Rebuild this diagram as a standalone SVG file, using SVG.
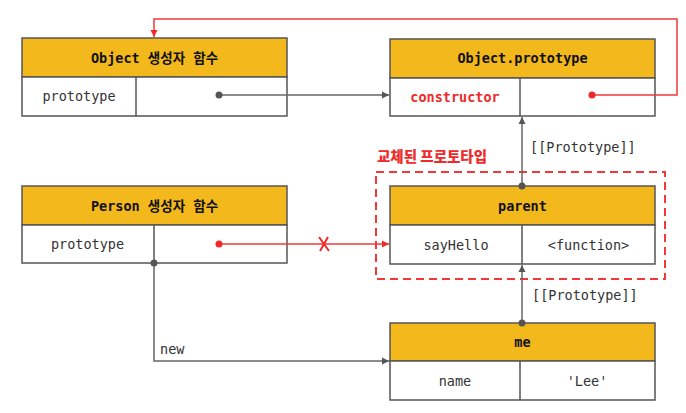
<svg xmlns="http://www.w3.org/2000/svg" width="686" height="413" viewBox="0 0 686 413">
<style>
.hd{fill:#F3B91C;stroke:#555;stroke-width:1.5}
.bd{fill:#fff;stroke:#555;stroke-width:1.5}
.dv{stroke:#555;stroke-width:1.5}
text{font-family:"DejaVu Sans Mono","Noto Sans CJK KR",monospace;font-size:13.5px;text-anchor:middle;dominant-baseline:central}
.ht{font-weight:bold;fill:#111}
.bt{fill:#333}
.rt{fill:#EE2A2A;font-weight:bold}
.ln{fill:none;stroke:#666;stroke-width:1.5}
.rl{fill:none;stroke:#F03A3A;stroke-width:1.5}
</style>
<defs>
<marker id="ag" markerWidth="8" markerHeight="8" refX="7" refY="4" orient="auto" markerUnits="userSpaceOnUse"><path d="M0,0.5 L7,4 L0,7.5 Z" fill="#555"/></marker>
<marker id="ar" markerWidth="8" markerHeight="8" refX="7" refY="4" orient="auto" markerUnits="userSpaceOnUse"><path d="M0,0.5 L7,4 L0,7.5 Z" fill="#EE2A2A"/></marker>
</defs>
<g id="replaced">
<rect x="376" y="172" width="289" height="107" fill="none" stroke="#F03A3A" stroke-width="2" stroke-dasharray="8 5"/>
<text class="rt" x="377" y="155" style="text-anchor:start;font-family:'Noto Sans CJK KR',sans-serif;font-size:14.5px;font-weight:900">교체된 프로토타입</text>
</g>
<g id="object-ctor">
<rect class="hd" x="22" y="38" width="265" height="39"/>
<rect class="bd" x="22" y="77" width="265" height="39"/>
<line class="dv" x1="136" y1="77" x2="136" y2="116"/>
<text class="ht" x="154.5" y="58">Object 생성자 함수</text>
<text class="bt" x="79" y="96">prototype</text>
</g>
<g id="object-prototype">
<rect class="hd" x="390" y="39" width="265" height="39"/>
<rect class="bd" x="390" y="78" width="265" height="38"/>
<line class="dv" x1="520" y1="78" x2="520" y2="116"/>
<text class="ht" x="522.5" y="58">Object.prototype</text>
<text class="rt" x="455" y="97">constructor</text>
</g>
<g id="person-ctor">
<rect class="hd" x="22" y="186" width="265" height="39"/>
<rect class="bd" x="22" y="225" width="265" height="38"/>
<line class="dv" x1="154" y1="225" x2="154" y2="263"/>
<text class="ht" x="154.5" y="206">Person 생성자 함수</text>
<text class="bt" x="87.5" y="244">prototype</text>
</g>
<g id="parent">
<rect class="hd" x="390" y="186" width="265" height="39"/>
<rect class="bd" x="390" y="225" width="265" height="39"/>
<line class="dv" x1="522" y1="225" x2="522" y2="264"/>
<text class="ht" x="522.5" y="206">parent</text>
<text class="bt" x="456" y="245">sayHello</text>
<text class="bt" x="588.5" y="245">&lt;function&gt;</text>
</g>
<g id="me">
<rect class="hd" x="390" y="323" width="265" height="38"/>
<rect class="bd" x="390" y="361" width="265" height="39"/>
<line class="dv" x1="520" y1="361" x2="520" y2="400"/>
<text class="ht" x="522.5" y="342">me</text>
<text class="bt" x="455" y="381">name</text>
<text class="bt" x="587" y="381">'Lee'</text>
</g>
<g id="connectors">
<path class="rl" d="M592,95 H677 V19 H154 V37" marker-end="url(#ar)"/>
<circle cx="592" cy="95" r="3.5" fill="#EE2A2A"/>
<path class="ln" d="M219,95 H389" marker-end="url(#ag)"/>
<circle cx="219" cy="95" r="3.5" fill="#555"/>
<path class="rl" d="M219,244 H389" marker-end="url(#ar)"/>
<circle cx="219" cy="244" r="3.5" fill="#EE2A2A"/>
<path d="M319,237 L329,251 M328,237 L320,251" stroke="#EE2A2A" stroke-width="2" fill="none"/>
<path class="ln" d="M154,263 V361 H389" marker-end="url(#ag)"/>
<circle cx="154" cy="263" r="3.5" fill="#555"/>
<text class="bt" x="160" y="349" style="text-anchor:start">new</text>
<path class="ln" d="M522,186 V117" marker-end="url(#ag)"/>
<circle cx="522" cy="186" r="3.5" fill="#555"/>
<text class="bt" x="530" y="147" style="text-anchor:start">[[Prototype]]</text>
<path class="ln" d="M522,323 V265" marker-end="url(#ag)"/>
<circle cx="522" cy="323" r="3.5" fill="#555"/>
<text class="bt" x="532" y="295" style="text-anchor:start">[[Prototype]]</text>
</g>
</svg>
